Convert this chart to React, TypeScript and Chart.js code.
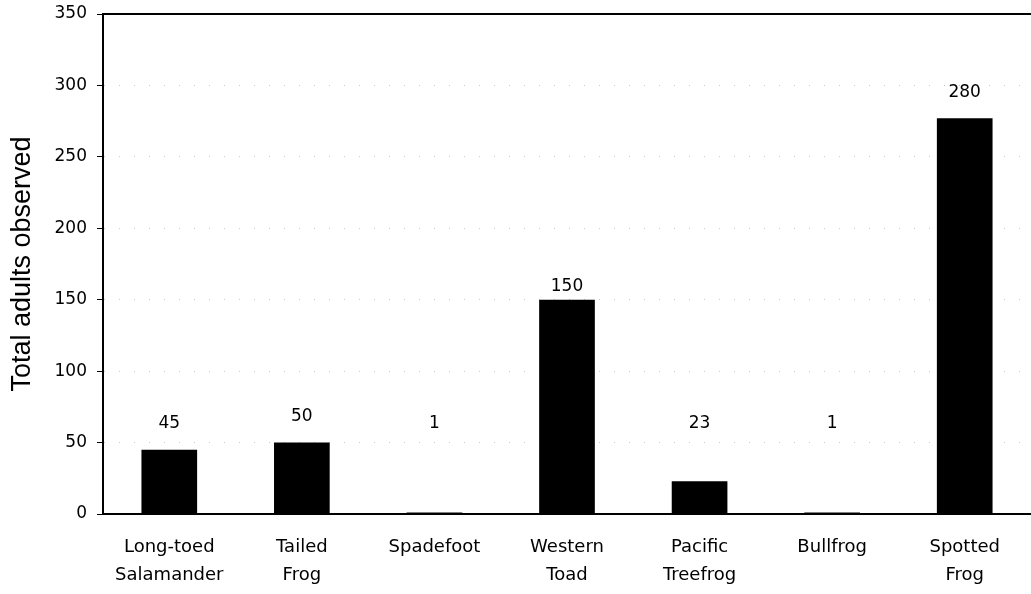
import React, { useEffect, useRef } from "react";
import { Chart, registerables } from "chart.js";

Chart.register(...registerables);

const categories: string[][] = [
  ["Long-toed", "Salamander"],
  ["Tailed", "Frog"],
  ["Spadefoot"],
  ["Western", "Toad"],
  ["Pacific", "Treefrog"],
  ["Bullfrog"],
  ["Spotted", "Frog"],
];
const adultCounts = [45, 50, 1, 150, 23, 1, 277];
const countLabels = ["45", "50", "1", "150", "23", "1", "280"];
const yTickValues = [0, 50, 100, 150, 200, 250, 300, 350];
const yAxisTitle = "Total adults observed";

const valueLabelPlugin = {
  id: "valueLabels",
  afterDatasetsDraw(chart: any) {
    const ctx = chart.ctx;
    const meta = chart.getDatasetMeta(0);
    const yScale = chart.scales.y;
    ctx.save();
    ctx.fillStyle = "#000";
    ctx.font = '17px "DejaVu Sans"';
    ctx.textAlign = "center";
    ctx.textBaseline = "middle";
    meta.data.forEach((bar: any, i: number) => {
      const v = adultCounts[i];
      const offset = v >= 100 && v < 200 ? 9 : 18;
      const y = yScale.getPixelForValue(Math.max(v, 45) + offset);
      ctx.fillText(countLabels[i], bar.x, y);
    });
    ctx.restore();
  },
};

const topBorderPlugin = {
  id: "topBorder",
  afterDraw(chart: any) {
    const { ctx, chartArea } = chart;
    ctx.save();
    ctx.strokeStyle = "#000";
    ctx.lineWidth = 2;
    ctx.beginPath();
    ctx.moveTo(chartArea.left, chartArea.top);
    ctx.lineTo(chartArea.right, chartArea.top);
    ctx.stroke();
    ctx.restore();
  },
};

export default function App() {
  const canvasRef = useRef<HTMLCanvasElement | null>(null);

  useEffect(() => {
    if (!canvasRef.current) return;
    const chart = new Chart(canvasRef.current, {
      type: "bar",
      data: {
        labels: categories,
        datasets: [
          {
            data: adultCounts,
            backgroundColor: "#000",
            borderWidth: 0,
            barPercentage: 0.42,
            categoryPercentage: 1,
          },
        ],
      },
      options: {
        animation: false,
        responsive: true,
        maintainAspectRatio: false,
        layout: { padding: { top: 14, left: 0, right: 0, bottom: 0 } },
        plugins: {
          legend: { display: false },
          tooltip: { enabled: false },
          title: { display: false },
        },
        scales: {
          x: {
            grid: { display: false },
            border: { display: true, color: "#000", width: 2 },
            ticks: {
              color: "#000",
              font: { family: "DejaVu Sans", size: 18, lineHeight: 1.56 },
              padding: 11,
              maxRotation: 0,
              minRotation: 0,
              autoSkip: false,
            },
            afterFit(scale: any) {
              scale.height = 80;
              scale.paddingLeft = 0;
              scale.paddingRight = 0;
            },
          },
          y: {
            min: 0,
            max: 350,
            afterBuildTicks(scale: any) {
              scale.ticks = yTickValues.map((v) => ({ value: v }));
            },
            grid: {
              display: true,
              color: "rgba(0,0,0,0.22)",
              lineWidth: 1,
              drawTicks: true,
              tickLength: 6,
              tickColor: "#000",
              tickWidth: 1,
            },
            border: { display: true, color: "#000", width: 2, dash: [1, 14] },
            ticks: {
              color: "#000",
              font: { family: "DejaVu Sans", size: 17 },
              padding: 10,
            },
            title: {
              display: true,
              text: yAxisTitle,
              color: "#000",
              font: { family: "Liberation Sans", size: 27 },
              padding: { top: 6, bottom: 0 },
            },
            afterFit(scale: any) {
              scale.width = 103;
              scale.paddingTop = 0;
              scale.paddingBottom = 0;
            },
          },
        },
      },
      plugins: [valueLabelPlugin, topBorderPlugin],
    });
    return () => chart.destroy();
  }, []);

  return (
    <div style={{ position: "fixed", left: 0, top: 0, width: 1031, height: 594, background: "#fff" }}>
      <canvas ref={canvasRef} />
    </div>
  );
}
